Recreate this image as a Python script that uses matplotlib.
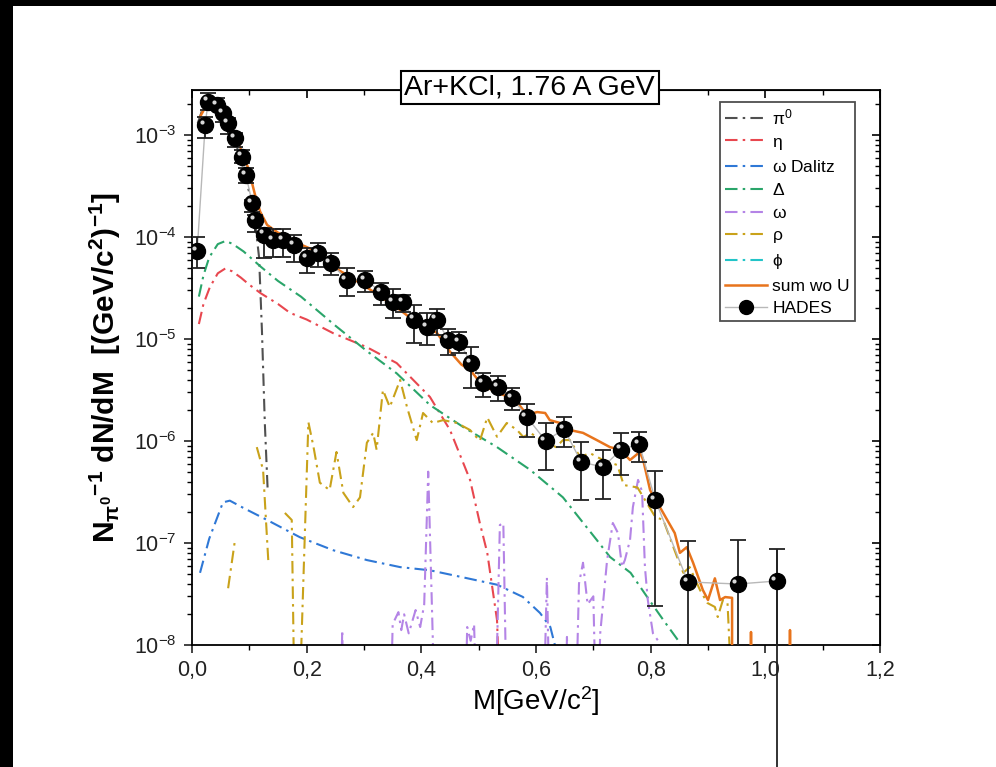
import numpy as np
import matplotlib
matplotlib.use("Agg")
import matplotlib.pyplot as plt
from matplotlib.patches import Rectangle
from matplotlib.transforms import ScaledTranslation
from matplotlib.ticker import MultipleLocator, LogLocator, NullFormatter

plt.rcParams['font.family'] = ['Liberation Sans', 'DejaVu Sans']
plt.rcParams['mathtext.fontset'] = 'custom'
plt.rcParams['mathtext.rm'] = 'Liberation Sans'
plt.rcParams['mathtext.it'] = 'Liberation Sans:italic'
plt.rcParams['mathtext.bf'] = 'Liberation Sans:bold'
plt.rcParams['mathtext.default'] = 'regular'

# HADES data points
hades_x = [0.009, 0.023, 0.028, 0.044, 0.054, 0.063, 0.075, 0.087, 0.094, 0.105,
           0.110, 0.126, 0.141, 0.159, 0.178, 0.201, 0.220, 0.242, 0.270, 0.302,
           0.330, 0.351, 0.368, 0.387, 0.410, 0.427, 0.447, 0.466, 0.487, 0.508,
           0.534, 0.558, 0.584, 0.617, 0.649, 0.679, 0.717, 0.748, 0.780, 0.808,
           0.865, 0.952, 1.020]
hades_y = [7.3e-5, 1.25e-3, 2.11e-3, 1.97e-3, 1.64e-3, 1.31e-3, 9.35e-4, 6.1e-4, 4.05e-4, 2.15e-4,
           1.47e-4, 1.05e-4, 9.35e-5, 9.35e-5, 8.35e-5, 6.2e-5, 6.97e-5, 5.56e-5, 3.79e-5, 3.79e-5,
           2.89e-5, 2.31e-5, 2.31e-5, 1.54e-5, 1.31e-5, 1.54e-5, 9.8e-6, 9.35e-6, 5.8e-6, 3.7e-6,
           3.38e-6, 2.64e-6, 1.72e-6, 1.0e-6, 1.31e-6, 6.2e-7, 5.56e-7, 8.2e-7, 9.35e-7, 2.64e-7,
           4.15e-8, 3.96e-8, 4.24e-8]
hades_hi = [1.0e-4, 1.5e-3, 2.58e-3, 2.31e-3, 1.76e-3, 1.47e-3, 1.05e-3, 7.1e-4, 4.75e-4, 2.31e-4,
            1.64e-4, 1.22e-4, 1.2e-4, 1.2e-4, 1.05e-4, 7.8e-5, 8.7e-5, 6.97e-5, 4.97e-5, 4.64e-5,
            3.54e-5, 3.09e-5, 2.7e-5, 2.15e-5, 1.8e-5, 1.97e-5, 1.25e-5, 1.17e-5, 8.35e-6, 4.64e-6,
            4.34e-6, 3.3e-6, 2.31e-6, 1.5e-6, 1.72e-6, 9.8e-7, 8.2e-7, 1.2e-6, 1.22e-6, 5.1e-7,
            1.05e-7, 1.07e-7, 8.7e-8]
hades_lo = [4.97e-5, 9.4e-4, 1.76e-3, 1.76e-3, 1.34e-3, 1.02e-3, 7.6e-4, 5.3e-4, 3.38e-4, 1.76e-4,
            1.12e-4, 6.2e-5, 6.4e-5, 6.4e-5, 5.7e-5, 4.4e-5, 5.1e-5, 4.24e-5, 2.64e-5, 2.89e-5,
            2.15e-5, 1.61e-5, 1.84e-5, 9.1e-6, 8.7e-6, 1.09e-5, 6.97e-6, 7.3e-6, 3.3e-6, 2.7e-6,
            2.47e-6, 2.01e-6, 1.09e-6, 5.2e-7, 8.7e-7, 2.64e-7, 2.7e-7, 4.64e-7, 6.2e-7, 2.41e-8,
            1e-9, 1e-9, 6.4e-10]

# model curves
pi0_x = [0.010, 0.020, 0.030, 0.040, 0.050, 0.060, 0.070, 0.080, 0.090, 0.100,
         0.110, 0.117, 0.122, 0.127, 0.132]
pi0_y = [1.3e-3, 1.9e-3, 2.0e-3, 1.85e-3, 1.6e-3, 1.3e-3, 9.8e-4, 7.2e-4, 4.6e-4, 2.7e-4,
         1.4e-4, 6.3e-5, 1.2e-5, 1.5e-6, 3.3e-7]

eta_x = [0.012, 0.020, 0.031, 0.045, 0.058, 0.070, 0.085, 0.100, 0.120, 0.150,
         0.171, 0.200, 0.246, 0.305, 0.357, 0.415, 0.450, 0.485, 0.502, 0.515,
         0.532, 0.540]
eta_y = [1.4e-5, 2.2e-5, 3.2e-5, 4.4e-5, 4.9e-5, 4.6e-5, 4.0e-5, 3.4e-5, 2.8e-5, 2.2e-5,
         1.8e-5, 1.55e-5, 1.14e-5, 8.3e-6, 5.8e-6, 2.7e-6, 1.28e-6, 4.15e-7, 1.57e-7, 8.0e-8,
         1.76e-8, 1e-9]

omd_x = [0.014, 0.030, 0.054, 0.066, 0.090, 0.131, 0.188, 0.246, 0.305, 0.363,
         0.415, 0.473, 0.532, 0.577, 0.607, 0.625, 0.635]
omd_y = [5.1e-8, 1.1e-7, 2.5e-7, 2.6e-7, 2.2e-7, 1.68e-7, 1.14e-7, 8.5e-8, 6.8e-8, 5.8e-8,
         5.4e-8, 4.6e-8, 3.9e-8, 2.96e-8, 2.06e-8, 1.5e-8, 9e-9]

delta_x = [0.012, 0.020, 0.030, 0.045, 0.058, 0.070, 0.090, 0.120, 0.150, 0.190,
           0.250, 0.305, 0.357, 0.415, 0.473, 0.532, 0.590, 0.647, 0.706, 0.729,
           0.765, 0.794, 0.822, 0.851, 0.860]
delta_y = [2.6e-5, 4.2e-5, 6.3e-5, 8.5e-5, 9.1e-5, 8.6e-5, 7.2e-5, 5.1e-5, 3.7e-5, 2.6e-5,
           1.35e-5, 7.6e-6, 4.6e-6, 2.25e-6, 1.37e-6, 8.7e-7, 5.2e-7, 2.8e-7, 1.07e-7, 7.3e-8,
           5.1e-8, 2.95e-8, 1.76e-8, 1.05e-8, 1e-9]

omega_x = [0.258, 0.262, 0.266, np.nan, 0.345, 0.350, 0.360, 0.365, 0.370, 0.378,
           0.390, 0.398, 0.405, 0.412, 0.418, 0.425, np.nan, 0.475, 0.480, 0.486,
           0.492, 0.498, np.nan, 0.528, 0.537, 0.543, 0.550, np.nan, 0.612, 0.619,
           0.625, np.nan, 0.650, 0.654, 0.658, np.nan, 0.668, 0.675, 0.682, 0.690,
           0.700, 0.706, 0.712, 0.724, 0.734, 0.743, 0.750, 0.755, 0.764, 0.769,
           0.778, 0.785, 0.790, 0.795, 0.804, 0.813, 0.820]
omega_y = [1e-9, 1.4e-8, 1e-9, np.nan, 1e-9, 1.6e-8, 2.1e-8, 1.4e-8, 2.0e-8, 1.3e-8,
           2.2e-8, 1.5e-8, 2.5e-8, 5.0e-7, 3.0e-8, 1e-9, np.nan, 1e-9, 1.5e-8, 1.1e-8,
           1.6e-8, 1e-9, np.nan, 1e-9, 1.5e-7, 1.57e-7, 1e-9, np.nan, 1e-9, 4.6e-8,
           1e-9, np.nan, 1e-9, 1.2e-8, 1e-9, np.nan, 1e-9, 4e-8, 6.4e-8, 2.5e-8,
           3e-8, 1e-9, 1.3e-8, 6.8e-8, 1.57e-7, 1.25e-7, 5.8e-8, 6.8e-8, 1.07e-7, 2.25e-7,
           4.15e-7, 3.2e-7, 5.8e-8, 2.76e-8, 1.3e-8, 1.1e-8, 1e-9]

rho_x = [0.063, 0.075, np.nan, 0.113, 0.124, 0.133, np.nan, 0.162, 0.174, 0.178,
         np.nan, 0.189, 0.203, 0.212, 0.223, 0.240, 0.252, 0.264, 0.281, 0.293,
         0.305, 0.316, 0.322, 0.333, 0.345, 0.363, 0.375, 0.392, 0.403, 0.420,
         0.438, 0.462, 0.485, 0.502, 0.515, 0.532, 0.549, 0.567, 0.578, 0.590,
         0.612, 0.635, 0.647, 0.659, 0.677, 0.694, 0.717, 0.742, 0.753, 0.777,
         0.808, 0.822, 0.846, 0.857, 0.868, 0.886, 0.899, 0.912, 0.917, 0.926,
         0.934, 0.940]
rho_y = [3.6e-8, 1.07e-7, np.nan, 8.7e-7, 5.2e-7, 6.8e-8, np.nan, 1.97e-7, 1.68e-7, 5e-9,
         np.nan, 5e-9, 1.53e-6, 8.7e-7, 3.9e-7, 3.3e-7, 7.8e-7, 3.1e-7, 2.25e-7, 2.8e-7,
         9.6e-7, 1.2e-6, 8.2e-7, 3.16e-6, 2.15e-6, 3.96e-6, 2.15e-6, 1.02e-6, 1.88e-6, 1.5e-6,
         1.6e-6, 1.5e-6, 1.28e-6, 1.0e-6, 1.7e-6, 1.1e-6, 1.5e-6, 1.28e-6, 1.09e-6, 1.2e-6,
         1.0e-6, 8.7e-7, 1.02e-6, 1.02e-6, 6.97e-7, 7.6e-7, 6.5e-7, 5.8e-7, 3.7e-7, 3.5e-7,
         1.8e-7, 1.68e-7, 7.3e-8, 5.1e-8, 5.8e-8, 3.46e-8, 2.58e-8, 2.36e-8, 1.88e-8, 2.76e-8,
         2.6e-8, 5e-9]

phi_x = []
phi_y = []

sum_x = [0.014, 0.028, 0.045, 0.063, 0.080, 0.098, 0.110, 0.119, 0.131, 0.150,
         0.180, 0.220, 0.246, 0.276, 0.305, 0.333, 0.363, 0.392, 0.427, 0.450,
         0.470, 0.485, 0.506, 0.532, 0.551, 0.567, 0.584, 0.602, 0.616, 0.624,
         0.642, 0.659, 0.682, 0.706, 0.729, 0.747, 0.764, 0.781, 0.787, 0.799,
         0.808, 0.816, 0.842, 0.851, 0.863, 0.874, 0.891, 0.900, 0.912, 0.921,
         0.930, 0.942, 0.947, 0.970, 0.975, 0.980, 1.038, 1.043, 1.048]
sum_y = [1.5e-3, 2.1e-3, 1.97e-3, 1.34e-3, 8.5e-4, 4.75e-4, 2.58e-4, 1.76e-4, 1.31e-4, 1.1e-4,
         8.9e-5, 7.1e-5, 5.1e-5, 4.05e-5, 3.2e-5, 2.5e-5, 1.92e-5, 1.44e-5, 1.15e-5, 7.5e-6,
         5.6e-6, 4.97e-6, 3.54e-6, 3.0e-6, 2.7e-6, 2.41e-6, 1.8e-6, 1.92e-6, 1.88e-6, 1.6e-6,
         1.5e-6, 1.28e-6, 1.2e-6, 1.02e-6, 8.7e-7, 8.2e-7, 6.5e-7, 7.8e-7, 6.5e-7, 3.3e-7,
         2.64e-7, 2.25e-7, 1.25e-7, 8.0e-8, 9.1e-8, 6.4e-8, 3.46e-8, 2.76e-8, 4.5e-8, 2.76e-8,
         2.95e-8, 2.9e-8, 0.0, 0.0, 1.34e-8, 0.0, 0.0, 1.4e-8, 0.0]

xticks = [0.0, 0.2, 0.4, 0.6, 0.8, 1.0, 1.2]
xtick_labels = ["0,0", "0,2", "0,4", "0,6", "0,8", "1,0", "1,2"]

fig = plt.figure(figsize=(9.96, 7.67), dpi=100, facecolor='black')
fig.patches.append(Rectangle((13 / 996, 0), 1, 761 / 767, transform=fig.transFigure,
                             facecolor='white', edgecolor='none', zorder=-10))
ax = fig.add_axes([192 / 996, 1 - 645 / 767, 688 / 996, 555 / 767])
ax.set_facecolor('white')

dd = (0, (6, 2.5, 1.2, 2.5))
lw = 1.5
ax.plot(pi0_x, pi0_y, color='#505050', lw=lw, ls=dd, label=r'$\pi^0$')
ax.plot(eta_x, eta_y, color='#e8474f', lw=lw, ls=dd, label=r'$\eta$')
ax.plot(omd_x, omd_y, color='#2f78d6', lw=lw, ls=dd, label=r'$\omega$ Dalitz')
ax.plot(delta_x, delta_y, color='#2aa56a', lw=lw, ls=dd, label=r'$\Delta$')
ax.plot(omega_x, omega_y, color='#b484e6', lw=lw, ls=dd, label=r'$\omega$')
ax.plot(rho_x, rho_y, color='#c9a21a', lw=lw, ls=dd, label=r'$\rho$')
ax.plot(phi_x, phi_y, color='#22c4c8', lw=lw, ls=dd, label=r'$\phi$')
ax.plot(sum_x, sum_y, color='#e8741c', lw=1.8, label='sum wo U', zorder=4)

hx = np.array(hades_x)
hy = np.array(hades_y)
yerr = [hy - np.array(hades_lo), np.array(hades_hi) - hy]
ax.plot(hx, hy, color='#b8b8b8', lw=1.0, zorder=5)
eb = ax.errorbar(hx, hy, yerr=yerr, fmt='none', ecolor='#222222', elinewidth=1.3,
                 capsize=6, capthick=1.3, zorder=6)
# last bar runs past the axis
eb2 = ax.errorbar(hx[-1:], hy[-1:], yerr=[yerr[0][-1:], yerr[1][-1:]], fmt='none',
                  ecolor='#222222', elinewidth=1.3, capsize=0, zorder=6)
for c in eb2.lines[2]:
    c.set_clip_on(False)
ax.plot(hx, hy, 'o', color='black', ms=11.5, zorder=7)
hl = ScaledTranslation(-2.4 / 72, 2.4 / 72, fig.dpi_scale_trans)
ax.plot(hx, hy, 'o', color='#d8d8d8', ms=3.0, mec='none', zorder=8,
        transform=ax.transData + hl)
ax.plot([], [], color='#b8b8b8', lw=1.0, marker='o', mfc='black', mec='black',
        ms=10, label='HADES')

ax.set_yscale('log', nonpositive='clip')
ax.set_xlim(0.0, 1.2)
ax.set_ylim(1e-8, 10 ** -2.56)
ax.set_xticks(xticks)
ax.set_xticklabels(xtick_labels)
ax.xaxis.set_minor_locator(MultipleLocator(0.1))
ax.yaxis.set_major_locator(LogLocator(base=10, numticks=20))
ax.yaxis.set_minor_locator(LogLocator(base=10, subs=np.arange(2, 10), numticks=20))
ax.yaxis.set_minor_formatter(NullFormatter())

for s in ax.spines.values():
    s.set_linewidth(1.3)
ax.tick_params(which='major', direction='out', length=6, width=1.2, labelsize=15.5,
               pad=5, colors='#222222')
ax.tick_params(which='minor', direction='out', length=3.5, width=1.0)

secx = ax.secondary_xaxis('top')
secx.set_xticks(xticks)
secx.xaxis.set_minor_locator(MultipleLocator(0.1))
secx.tick_params(which='major', direction='in', length=6, width=1.2, labeltop=False)
secx.tick_params(which='minor', direction='in', length=3.5, width=1.0)
secy = ax.secondary_yaxis('right')
secy.yaxis.set_major_locator(LogLocator(base=10, numticks=20))
secy.yaxis.set_minor_locator(LogLocator(base=10, subs=np.arange(2, 10), numticks=20))
secy.tick_params(which='major', direction='in', length=6, width=1.2, labelright=False)
secy.tick_params(which='minor', direction='in', length=3.5, width=1.0, labelright=False)
secy.yaxis.set_minor_formatter(NullFormatter())

ax.set_xlabel('M[GeV/c$^2$]', fontsize=20, labelpad=2)
ax.set_ylabel(r'N$_{\pi^0}$$^{-1}$ dN/dM  [(GeV/c$^2$)$^{-1}$]', fontsize=21.5,
              fontweight='bold', labelpad=8)

ax.text(0.491, 1.004, 'Ar+KCl, 1.76 A GeV', transform=ax.transAxes, ha='center',
        va='center', fontsize=20.5, zorder=10,
        bbox=dict(boxstyle='square,pad=0.12', facecolor='white', edgecolor='black', lw=1.5))

leg = ax.legend(loc='upper right', bbox_to_anchor=(855 / 996, 1 - 102 / 767),
                bbox_transform=fig.transFigure, fontsize=12.5, frameon=True,
                fancybox=False, edgecolor='#222222', handlelength=2.4,
                handletextpad=0.3, labelspacing=0.42, borderpad=0.3,
                borderaxespad=0.0)
leg.get_frame().set_linewidth(1.3)

fig.savefig('out.png', dpi=100, facecolor=fig.get_facecolor())
